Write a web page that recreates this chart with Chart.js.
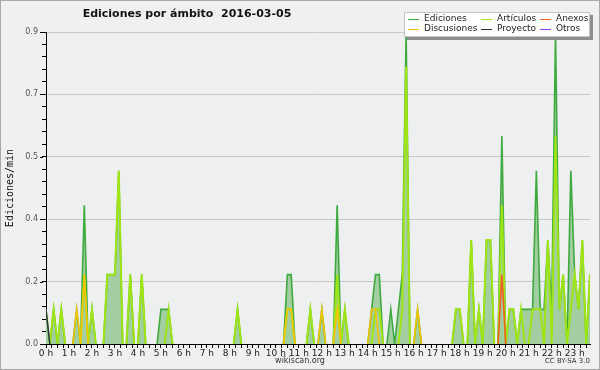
<!DOCTYPE html>
<html>
<head>
<meta charset="utf-8">
<script src="https://cdn.jsdelivr.net/npm/chart.js@4.4.1/dist/chart.umd.min.js"></script>
<style>
  html, body { margin: 0; padding: 0; background: #f0f0f0; }
  canvas { display: block; }
</style>
</head>
<body>
<canvas id="chart" width="600" height="370"></canvas>
<script>
const chartTitle = 'Ediciones por ámbito  2016-03-05';
const stepMinutes = 10;  // one sample every 10 minutes, 00:00 .. 23:40

// edits per minute, one row per hour (6 samples)
const ediciones = [
  0.1, 0, 0.1, 0, 0.1, 0,
  0, 0, 0.1, 0, 0.4, 0,
  0.1, 0, 0, 0, 0.2, 0.2,
  0.2, 0.5, 0, 0, 0.2, 0,
  0, 0.2, 0, 0, 0, 0,
  0.1, 0.1, 0.1, 0, 0, 0,
  0, 0, 0, 0, 0, 0,
  0, 0, 0, 0, 0, 0,
  0, 0, 0.1, 0, 0, 0,
  0, 0, 0, 0, 0, 0,
  0, 0, 0, 0.2, 0.2, 0,
  0, 0, 0, 0.1, 0, 0,
  0.1, 0, 0, 0, 0.4, 0,
  0.1, 0, 0, 0, 0, 0,
  0, 0.1, 0.2, 0.2, 0, 0,
  0.1, 0, 0.1, 0.2, 0.9, 0,
  0, 0.1, 0, 0, 0, 0,
  0, 0, 0, 0, 0, 0.1,
  0.1, 0, 0, 0.3, 0, 0.1,
  0, 0.3, 0.3, 0, 0, 0.6,
  0, 0.1, 0.1, 0, 0.1, 0.1,
  0.1, 0.1, 0.5, 0.1, 0.1, 0.3,
  0.1, 0.9, 0.1, 0.2, 0, 0.5,
  0.2, 0.1, 0.3, 0, 0.2
];
const articulos = [
  0, 0, 0.1, 0, 0.1, 0,
  0, 0, 0, 0, 0.2, 0,
  0.1, 0, 0, 0, 0.2, 0.2,
  0.2, 0.5, 0, 0, 0.2, 0,
  0, 0.2, 0, 0, 0, 0,
  0, 0, 0.1, 0, 0, 0,
  0, 0, 0, 0, 0, 0,
  0, 0, 0, 0, 0, 0,
  0, 0, 0.1, 0, 0, 0,
  0, 0, 0, 0, 0, 0,
  0, 0, 0, 0.1, 0.1, 0,
  0, 0, 0, 0.1, 0, 0,
  0, 0, 0, 0, 0.2, 0,
  0.1, 0, 0, 0, 0, 0,
  0, 0, 0.1, 0.1, 0, 0,
  0, 0, 0, 0.1, 0.8, 0,
  0, 0, 0, 0, 0, 0,
  0, 0, 0, 0, 0, 0.1,
  0.1, 0, 0, 0.3, 0, 0.1,
  0, 0.3, 0.3, 0, 0, 0.4,
  0, 0.1, 0.1, 0, 0.1, 0,
  0, 0.1, 0.1, 0.1, 0, 0.3,
  0, 0.6, 0.1, 0.2, 0, 0.1,
  0.2, 0.1, 0.3, 0, 0.2
];
const anexos = [
  0, 0, 0, 0, 0, 0,   0, 0, 0, 0, 0, 0,   0, 0, 0, 0, 0, 0,   0, 0, 0, 0, 0, 0,
  0, 0, 0, 0, 0, 0,   0, 0, 0, 0, 0, 0,   0, 0, 0, 0, 0, 0,   0, 0, 0, 0, 0, 0,
  0, 0, 0, 0, 0, 0,   0, 0, 0, 0, 0, 0,   0, 0, 0, 0, 0, 0,   0, 0, 0, 0, 0, 0,
  0, 0, 0, 0, 0, 0,   0, 0, 0, 0, 0, 0,   0, 0, 0, 0, 0, 0,   0, 0, 0, 0, 0, 0,
  0, 0, 0, 0, 0, 0,   0, 0, 0, 0, 0, 0,   0, 0, 0, 0, 0, 0,   0, 0, 0, 0, 0, 0.2,
  0, 0, 0, 0, 0, 0,   0, 0, 0, 0, 0, 0,   0, 0, 0, 0, 0, 0,   0, 0, 0, 0, 0
];
const discusiones = [
  0, 0, 0, 0, 0, 0,   0, 0, 0.1, 0, 0.2, 0,   0, 0, 0, 0, 0, 0,   0, 0, 0, 0, 0, 0,
  0, 0, 0, 0, 0, 0,   0, 0, 0, 0, 0, 0,   0, 0, 0, 0, 0, 0,   0, 0, 0, 0, 0, 0,
  0, 0, 0, 0, 0, 0,   0, 0, 0, 0, 0, 0,   0, 0, 0, 0.1, 0.1, 0,   0, 0, 0, 0, 0, 0,
  0.1, 0, 0, 0, 0.1, 0,   0, 0, 0, 0, 0, 0,   0, 0.1, 0.1, 0, 0, 0,   0, 0, 0, 0, 0, 0,
  0, 0.1, 0, 0, 0, 0,   0, 0, 0, 0, 0, 0,   0, 0, 0, 0, 0, 0,   0, 0, 0, 0, 0, 0,
  0, 0, 0, 0, 0, 0,   0, 0, 0, 0, 0, 0,   0, 0, 0, 0, 0, 0,   0, 0, 0, 0, 0
];
const proyecto = [
  0.1, 0, 0, 0, 0, 0,   0, 0, 0, 0, 0, 0,   0, 0, 0, 0, 0, 0,   0, 0, 0, 0, 0, 0,
  0, 0, 0, 0, 0, 0,   0, 0, 0, 0, 0, 0,   0, 0, 0, 0, 0, 0,   0, 0, 0, 0, 0, 0,
  0, 0, 0, 0, 0, 0,   0, 0, 0, 0, 0, 0,   0, 0, 0, 0, 0, 0,   0, 0, 0, 0, 0, 0,
  0, 0, 0, 0, 0, 0,   0, 0, 0, 0, 0, 0,   0, 0, 0, 0, 0, 0,   0, 0, 0, 0, 0, 0,
  0, 0, 0, 0, 0, 0,   0, 0, 0, 0, 0, 0,   0, 0, 0, 0, 0, 0,   0, 0, 0, 0, 0, 0,
  0, 0, 0, 0, 0, 0,   0, 0, 0, 0, 0, 0,   0, 0, 0, 0, 0, 0,   0, 0, 0, 0, 0
];
const otros = [
  0, 0, 0, 0, 0, 0,   0, 0, 0, 0, 0, 0,   0, 0, 0, 0, 0, 0,   0, 0, 0, 0, 0, 0,
  0, 0, 0, 0, 0, 0,   0, 0, 0, 0, 0, 0,   0, 0, 0, 0, 0, 0,   0, 0, 0, 0, 0, 0,
  0, 0, 0, 0, 0, 0,   0, 0, 0, 0, 0, 0,   0, 0, 0, 0, 0, 0,   0, 0, 0, 0, 0, 0,
  0, 0, 0, 0, 0, 0,   0, 0, 0, 0, 0, 0,   0, 0, 0, 0, 0, 0,   0, 0, 0, 0, 0, 0,
  0, 0, 0, 0, 0, 0,   0, 0, 0, 0, 0, 0,   0, 0, 0, 0, 0, 0,   0, 0, 0, 0, 0, 0,
  0, 0, 0, 0, 0, 0,   0, 0, 0, 0, 0, 0,   0, 0, 0, 0, 0, 0,   0, 0, 0, 0, 0
];

const hourLabels = ['0 h', '1 h', '2 h', '3 h', '4 h', '5 h', '6 h', '7 h', '8 h', '9 h', '10 h', '11 h',
  '12 h', '13 h', '14 h', '15 h', '16 h', '17 h', '18 h', '19 h', '20 h', '21 h', '22 h', '23 h'];
const yMajorTicks = [0, 0.18, 0.36, 0.54, 0.72, 0.9];
const yTickLabels = ['0.0', '0.2', '0.4', '0.5', '0.7', '0.9'];

// sample times in minutes since midnight
const slotMinutes = ediciones.map((_, i) => i * stepMinutes);
const lastMinute = slotMinutes[slotMinutes.length - 1];

// x ticks every 15 min, y minor ticks: 4 between each major
const xTicks = [];
for (let m = 0; m <= lastMinute; m += 15) xTicks.push(m);
const yTicks = [];
yMajorTicks.forEach((v, i) => {
  yTicks.push(v);
  if (i < yMajorTicks.length - 1) {
    const step = (yMajorTicks[i + 1] - v) / 5;
    for (let k = 1; k < 5; k++) yTicks.push(v + k * step);
  }
});

const points = vals => vals.map((v, i) => ({ x: slotMinutes[i], y: v }));

// hide the parts of a line that just run along the zero baseline
const hideZero = c => (c.p0.parsed.y === 0 && c.p1.parsed.y === 0) ? 'rgba(0,0,0,0)' : undefined;

function lineSet(label, vals, color, width, order) {
  return {
    label: label,
    data: points(vals),
    borderColor: color,
    borderWidth: width,
    pointRadius: 0,
    tension: 0,
    fill: false,
    order: order,
    segment: { borderColor: hideZero }
  };
}

const datasets = [
  Object.assign(lineSet('Ediciones', ediciones, '#3faa3f', 1.6, 6), {
    fill: 'origin', backgroundColor: '#a2cea2'
  }),
  lineSet('Artículos', articulos, '#9fe414', 2, 5),
  lineSet('Anexos', anexos, '#f06020', 1.6, 4),
  lineSet('Discusiones', discusiones, '#f5c400', 1.6, 3),
  lineSet('Proyecto', proyecto, '#333333', 1.4, 2),
  lineSet('Otros', otros, '#8a3cf0', 1.4, 1)
];

const frame = {
  id: 'frame',
  beforeDraw(chart) {
    const { ctx, chartArea: a } = chart;
    ctx.save();
    ctx.fillStyle = '#f0f0f0';
    ctx.fillRect(0, 0, chart.width, chart.height);
    ctx.fillStyle = '#eeeff1';
    ctx.fillRect(a.left, a.top, a.right - a.left, a.bottom - a.top);
    ctx.strokeStyle = '#a9a9a9';
    ctx.lineWidth = 1;
    ctx.strokeRect(0.5, 0.5, chart.width - 1, chart.height - 1);
    ctx.restore();
  },
  afterDraw(chart) {
    const ctx = chart.ctx;
    const yScale = chart.scales.y;
    ctx.save();
    // longer marks for the labelled y ticks
    ctx.strokeStyle = '#000';
    ctx.lineWidth = 1;
    yMajorTicks.forEach(v => {
      const py = Math.round(yScale.getPixelForValue(v)) + 0.5;
      ctx.beginPath();
      ctx.moveTo(40, py);
      ctx.lineTo(43, py);
      ctx.stroke();
    });
    // title
    ctx.fillStyle = '#111';
    ctx.font = 'bold 11px "DejaVu Sans"';
    ctx.textAlign = 'center';
    ctx.textBaseline = 'middle';
    ctx.fillText(chartTitle, 187, 14);
    // footer
    ctx.fillStyle = '#333';
    ctx.font = '8px "DejaVu Sans"';
    ctx.fillText('wikiscan.org', 300, 361);
    ctx.font = '7px "DejaVu Sans"';
    ctx.textAlign = 'right';
    ctx.fillText('CC BY-SA 3.0', 590, 361);

    // legend box
    const bx = 404, by = 12, bw = 186, bh = 25;
    ctx.fillStyle = '#8e8e8e';
    ctx.fillRect(bx + 3, by + 3, bw, bh);
    ctx.fillStyle = '#ffffff';
    ctx.fillRect(bx, by, bw, bh);
    ctx.strokeStyle = '#c4c4c4';
    ctx.strokeRect(bx + 0.5, by + 0.5, bw - 1, bh - 1);
    const colX = [408, 481, 540];
    const rowY = [19, 29];
    ctx.textAlign = 'left';
    ctx.font = '9px "DejaVu Sans"';
    chart.data.datasets.forEach((ds, i) => {
      const x = colX[i % 3];
      const y = rowY[Math.floor(i / 3)];
      ctx.strokeStyle = ds.borderColor;
      ctx.lineWidth = 1;
      ctx.beginPath();
      ctx.moveTo(x, y + 0.5);
      ctx.lineTo(x + 11, y + 0.5);
      ctx.stroke();
      ctx.fillStyle = '#222';
      ctx.fillText(ds.label, x + 16, y);
    });
    ctx.restore();
  }
};

new Chart(document.getElementById('chart'), {
  type: 'line',
  data: { datasets: datasets },
  options: {
    responsive: false,
    animation: false,
    devicePixelRatio: 1,
    layout: { padding: { left: 0, right: 10, top: 32, bottom: 0 } },
    plugins: { legend: { display: false }, tooltip: { enabled: false } },
    scales: {
      x: {
        type: 'linear',
        min: 0,
        max: lastMinute,
        afterBuildTicks: s => { s.ticks = xTicks.map(v => ({ value: v })); },
        afterFit: s => { s.height = 26; },
        border: { color: '#000', width: 1 },
        grid: { drawOnChartArea: false, tickLength: 4, tickColor: '#000' },
        ticks: {
          autoSkip: false,
          maxRotation: 0,
          padding: 0,
          color: '#222',
          font: { family: 'DejaVu Sans', size: 9 },
          callback: v => (v % 60 === 0 ? hourLabels[v / 60] : '')
        }
      },
      y: {
        min: 0,
        max: 0.9,
        afterBuildTicks: s => { s.ticks = yTicks.map(v => ({ value: v })); },
        afterFit: s => { s.width = 46; },
        border: { color: '#000', width: 1 },
        grid: {
          color: c => (c.index % 5 === 0 ? '#c8c8c8' : 'rgba(0,0,0,0)'),
          tickColor: '#000',
          tickLength: 4
        },
        ticks: {
          autoSkip: false,
          padding: 4,
          color: '#555',
          font: { family: 'DejaVu Sans', size: 8 },
          callback: (v, i) => (i % 5 === 0 ? yTickLabels[i / 5] : '')
        },
        title: {
          display: true,
          text: 'Ediciones/min',
          color: '#111',
          font: { family: 'DejaVu Sans Mono', size: 10 },
          padding: { top: 4, bottom: 0 }
        }
      }
    }
  },
  plugins: [frame]
});
</script>
</body>
</html>
